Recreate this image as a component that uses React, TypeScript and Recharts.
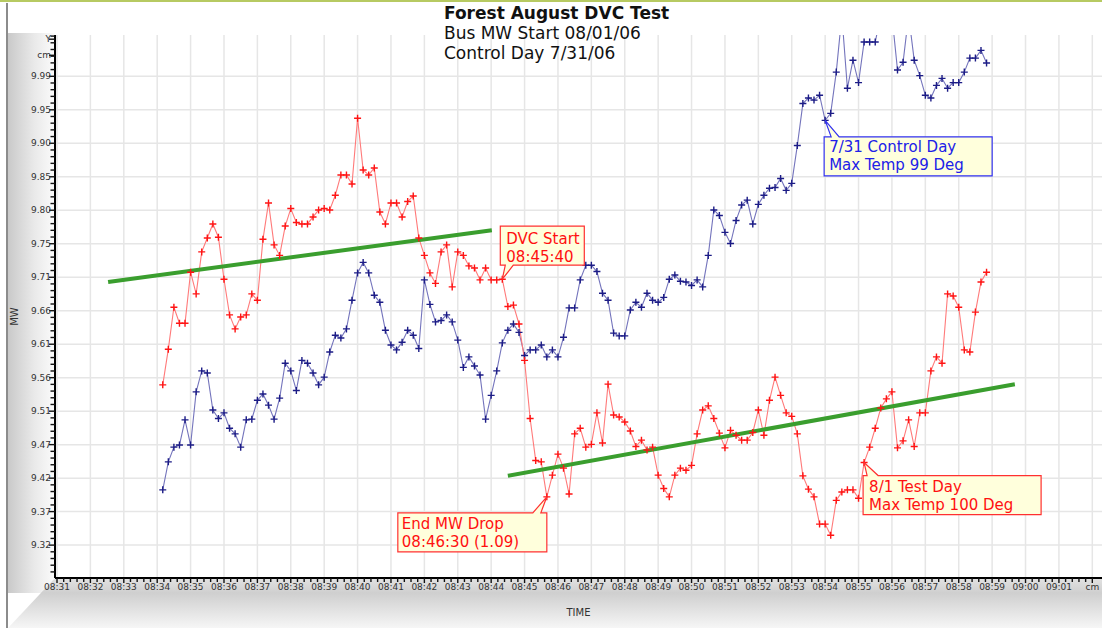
import {
  LineChart,
  Line,
  XAxis,
  YAxis,
  ReferenceLine,
  ReferenceDot,
} from 'recharts'

// Samples every 10 s, first one at 08:34:10 (x axis is minutes after 08:00)
const startMinute = 34 + 10 / 60
const stepMinute = 10 / 60

// 8/1 test day (red)
const testDayMW = [
  9.552, 9.603, 9.663, 9.640, 9.640, 9.713, 9.682, 9.742, 9.762, 9.782,
  9.763, 9.703, 9.652, 9.632, 9.649, 9.652, 9.682, 9.673, 9.760, 9.812,
  9.752, 9.737, 9.779, 9.804, 9.784, 9.782, 9.782, 9.792, 9.802, 9.804,
  9.802, 9.823, 9.852, 9.852, 9.839, 9.933, 9.859, 9.852, 9.862, 9.799,
  9.782, 9.812, 9.812, 9.792, 9.814, 9.822, 9.762, 9.737, 9.712, 9.697,
  9.742, 9.752, 9.692, 9.742, 9.737, 9.722, 9.719, 9.702, 9.719, 9.702,
  9.702, 9.703, 9.664, 9.666, 9.639, 9.587, 9.504, 9.444, 9.442, 9.392,
  9.423, 9.453, 9.433, 9.396, 9.482, 9.490, 9.463, 9.467, 9.512, 9.469,
  9.553, 9.509, 9.506, 9.499, 9.486, 9.464, 9.473, 9.459, 9.463, 9.423,
  9.404, 9.392, 9.423, 9.433, 9.430, 9.437, 9.482, 9.516, 9.522, 9.504,
  9.483, 9.462, 9.487, 9.480, 9.473, 9.473, 9.484, 9.516, 9.480, 9.530,
  9.563, 9.537, 9.512, 9.507, 9.482, 9.422, 9.403, 9.392, 9.353, 9.353,
  9.337, 9.387, 9.399, 9.402, 9.402, 9.390, 9.441, 9.463, 9.490, 9.519,
  9.532, 9.542, 9.462, 9.472, 9.502, 9.464, 9.512, 9.512, 9.572, 9.592,
  9.583, 9.682, 9.679, 9.663, 9.602, 9.599, 9.656, 9.699, 9.713,
]

// 7/31 control day (blue); values above 10.05 run off the top of the plot
const controlDayMW = [
  9.402, 9.442, 9.463, 9.466, 9.502, 9.466, 9.542, 9.572, 9.569, 9.516,
  9.504, 9.512, 9.490, 9.482, 9.463, 9.502, 9.503, 9.530, 9.539, 9.523,
  9.503, 9.533, 9.583, 9.572, 9.544, 9.587, 9.583, 9.569, 9.552, 9.563,
  9.599, 9.623, 9.619, 9.632, 9.673, 9.712, 9.727, 9.712, 9.680, 9.670,
  9.630, 9.609, 9.602, 9.613, 9.630, 9.623, 9.604, 9.702, 9.667, 9.642,
  9.644, 9.652, 9.642, 9.616, 9.577, 9.592, 9.579, 9.566, 9.503, 9.537,
  9.572, 9.612, 9.630, 9.639, 9.627, 9.594, 9.602, 9.602, 9.609, 9.592,
  9.602, 9.592, 9.620, 9.662, 9.662, 9.702, 9.723, 9.723, 9.714, 9.683,
  9.673, 9.626, 9.622, 9.622, 9.659, 9.670, 9.663, 9.683, 9.673, 9.670,
  9.677, 9.703, 9.709, 9.700, 9.699, 9.694, 9.702, 9.692, 9.737, 9.802,
  9.794, 9.770, 9.754, 9.787, 9.809, 9.816, 9.782, 9.810, 9.823, 9.833,
  9.834, 9.847, 9.830, 9.840, 9.894, 9.954, 9.962, 9.959, 9.966, 9.930,
  9.940, 9.999, 10.08, 9.976, 10.016, 9.984, 10.042, 10.042, 10.042, 10.08,
  10.08, 10.08, 10.002, 10.013, 10.08, 10.016, 9.994, 9.966, 9.962, 9.980,
  9.990, 9.976, 9.984, 9.984, 9.999, 10.019, 10.019, 10.030, 10.012,
]

const xTickMinutes = [
  31, 32, 33, 34, 35, 36, 37, 38, 39, 40, 41, 42, 43, 44, 45, 46,
  47, 48, 49, 50, 51, 52, 53, 54, 55, 56, 57, 58, 59, 60, 61, 62,
]
const xTickLabels = [
  '08:31', '08:32', '08:33', '08:34', '08:35', '08:36', '08:37', '08:38',
  '08:39', '08:40', '08:41', '08:42', '08:43', '08:44', '08:45', '08:46',
  '08:47', '08:48', '08:49', '08:50', '08:51', '08:52', '08:53', '08:54',
  '08:55', '08:56', '08:57', '08:58', '08:59', '09:00', '09:01', 'cm',
]

const yTickValues = [
  9.3230, 9.3709, 9.4187, 9.4666, 9.5144, 9.5623, 9.6101, 9.6580,
  9.7058, 9.7537, 9.8016, 9.8494, 9.8973, 9.9451, 9.9930,
]
const yTickLabels = [
  '9.32', '9.37', '9.42', '9.47', '9.51', '9.56', '9.61', '9.66',
  '9.71', '9.75', '9.80', '9.85', '9.90', '9.95', '9.99',
]
const yUnitValues = [10.023, 10.046]
const yUnitLabels = ['cm', 'Y']

// green trend lines (minute, MW)
const trendBefore = [
  { minute: 32.53, mw: 9.699 },
  { minute: 44.02, mw: 9.773 },
]
const trendAfter = [
  { minute: 44.5, mw: 9.422 },
  { minute: 59.68, mw: 9.553 },
]

const notes = [
  { id: 'dvc', series: 'test', index: 61, lines: ['DVC Start', '08:45:40'] },
  { id: 'drop', series: 'test', index: 69, lines: ['End MW Drop', '08:46:30 (1.09)'] },
  { id: 'control', series: 'control', index: 119, lines: ['7/31 Control Day', 'Max Temp 99 Deg'] },
  { id: 'testday', series: 'test', index: 126, lines: ['8/1 Test Day', 'Max Temp 100 Deg'] },
]

const W = 1102
const H = 628
const FONT = '"DejaVu Sans", Verdana, sans-serif'
const xDomain: [number, number] = [30.94, 62.29]
const yDomain: [number, number] = [9.276, 10.052]

const RED = '#ff1414'
const RED_LINE = '#ff7a7a'
const BLUE = '#1c1c86'
const BLUE_LINE = '#7474bc'
const GREEN = '#3a9e2e'
const GRID = '#e6e6e6'

const data = testDayMW.map((mw, i) => ({
  minute: startMinute + i * stepMinute,
  test: mw,
  control: controlDayMW[i],
}))

// major + minor (5 per division) tick positions
const xTicksAll: number[] = []
for (let k = 0; k <= (62 - 31) * 5; k++) xTicksAll.push(31 + k / 5)

const yStep = (yTickValues[yTickValues.length - 1] - yTickValues[0]) / (yTickValues.length - 1)
const yTicksAll: number[] = []
for (let k = -4; k <= 76; k++) {
  if (k % 5 === 0 && k >= 0 && k / 5 < yTickValues.length) yTicksAll.push(yTickValues[k / 5])
  else yTicksAll.push(yTickValues[0] + (k * yStep) / 5)
}
yUnitValues.forEach((v) => yTicksAll.push(v))
yTicksAll.sort((a, b) => a - b)

const yLabelFor = (v: number) => {
  const i = yTickValues.indexOf(v)
  if (i >= 0) return yTickLabels[i]
  const j = yUnitValues.indexOf(v)
  if (j >= 0) return yUnitLabels[j]
  return null
}

function XTick(props: any) {
  const { x, y, payload } = props
  const v = payload.value
  const major = Math.abs(v - Math.round(v)) < 1e-6
  return (
    <g>
      <line x1={x} x2={x} y1={y} y2={y + (major ? 5 : 4)} stroke="#111" strokeWidth={1.4} />
      {major && (
        <text x={x} y={y + 12} textAnchor="middle" fontSize={9} fontFamily={FONT} fill="#333">
          {xTickLabels[Math.round(v) - 31]}
        </text>
      )}
    </g>
  )
}

function YTick(props: any) {
  const { x, y, payload } = props
  const label = yLabelFor(payload.value)
  return (
    <g>
      <line x1={x - (label ? 6 : 4.5)} x2={x} y1={y} y2={y} stroke="#111" strokeWidth={1.4} />
      {label && (
        <text x={x - 4} y={y + 3} textAnchor="end" fontSize={9} fontFamily={FONT} fill="#333">
          {label}
        </text>
      )}
    </g>
  )
}

function cross(color: string) {
  return (props: any) => {
    const { cx, cy, index } = props
    if (cx == null || cy == null || isNaN(cy)) return <g key={`${color}${index}`} />
    return (
      <path
        key={`${color}${index}`}
        d={`M${cx - 3.5},${cy}h7M${cx},${cy - 3.5}v7`}
        stroke={color}
        strokeWidth={1.4}
        fill="none"
      />
    )
  }
}

// callout outline relative to the pointed data point, plus text start
const calloutLayout: Record<string, { path: string; tx: number; ty: number; color: string }> = {
  dvc: { path: 'M-2,-53H82V-14H11L0,0L3,-14H-2Z', tx: 4, ty: -35, color: 'red' },
  drop: { path: 'M-149,16H-14L0,0L-6,16H0V55H-149Z', tx: -145, ty: 32, color: 'red' },
  control: { path: 'M-1,16.5H6L0,0L14,16.5H167V55.5H-1Z', tx: 4, ty: 32, color: 'blue' },
  testday: { path: 'M-1,13H3L0,0L14,13H177V52H-1Z', tx: 5, ty: 29, color: 'red' },
}

function Callout(props: any) {
  const { cx, cy, id, lines } = props
  const l = calloutLayout[id]
  const stroke = l.color === 'red' ? '#ff3030' : '#3030f0'
  const fill = l.color === 'red' ? '#ff1010' : '#2020e8'
  return (
    <g transform={`translate(${cx},${cy})`}>
      <path d={l.path} fill="#ffffdc" stroke={stroke} strokeWidth={1.2} />
      {lines.map((t: string, i: number) => (
        <text key={i} x={l.tx} y={l.ty + i * 18} fontSize={15} fontFamily={FONT} fill={fill}>
          {t}
        </text>
      ))}
    </g>
  )
}

export default function App() {
  return (
    <div
      style={{
        position: 'absolute',
        left: 0,
        top: 0,
        width: W,
        height: H,
        background: '#fff',
        overflow: 'hidden',
      }}
    >
      {/* panel frame and shading */}
      <div style={{ position: 'absolute', left: 0, top: 0, width: W, height: 2, background: '#b7ca62' }} />
      <div
        style={{
          position: 'absolute',
          left: 8,
          top: 33,
          width: 47,
          height: 560,
          background: 'linear-gradient(to right, #c9c9c9, #e9e9e9 55%, #fbfbfb)',
        }}
      />
      <div
        style={{
          position: 'absolute',
          left: 8,
          top: 578,
          width: W - 8,
          height: 50,
          background: 'linear-gradient(to bottom, #e2e2e2, #cfcfcf 30%, #f6f6f6)',
          clipPath: 'polygon(0 100%, 47px 0, 100% 0, 100% 100%)',
        }}
      />
      <div style={{ position: 'absolute', left: 6, top: 3, width: 1.5, height: H, background: '#8c8c8c' }} />

      <div style={{ position: 'absolute', left: 0, top: 0 }}>
        <LineChart width={W} height={H} data={data} margin={{ top: 35, right: 0, bottom: 0, left: 0 }}>
          <XAxis
            dataKey="minute"
            type="number"
            domain={xDomain}
            allowDataOverflow
            ticks={xTicksAll}
            interval={0}
            tickSize={0}
            tickMargin={0}
            tickLine={false}
            tick={<XTick />}
            height={50}
            axisLine={{ stroke: '#000', strokeWidth: 2 }}
            label={{
              value: 'TIME',
              position: 'insideBottom',
              offset: 12,
              fontSize: 10,
              fontFamily: FONT,
              fill: '#333',
            }}
          />
          <YAxis
            type="number"
            domain={yDomain}
            allowDataOverflow
            ticks={yTicksAll}
            interval={0}
            tickSize={0}
            tickMargin={0}
            tickLine={false}
            tick={<YTick />}
            width={55}
            axisLine={{ stroke: '#000', strokeWidth: 2 }}
            label={{
              content: (p: any) => {
                const vb = p.viewBox || {}
                const cx = (vb.x || 0) + 14
                const cy = (vb.y || 0) + (vb.height || 0) / 2 + 10
                return (
                  <text
                    x={cx}
                    y={cy}
                    transform={`rotate(-90 ${cx} ${cy})`}
                    textAnchor="middle"
                    dominantBaseline="central"
                    fontSize={10}
                    fontFamily={FONT}
                    fill="#333"
                  >
                    MW
                  </text>
                )
              },
            }}
          />

          {xTickMinutes.map((m) => (
            <ReferenceLine key={`gx${m}`} x={m} stroke={GRID} strokeWidth={1.5} />
          ))}
          {yTickValues.map((v) => (
            <ReferenceLine key={`gy${v}`} y={v} stroke={GRID} strokeWidth={1.5} />
          ))}

          <Line
            dataKey="control"
            type="linear"
            stroke={BLUE_LINE}
            strokeWidth={1.1}
            dot={cross(BLUE)}
            activeDot={false}
            isAnimationActive={false}
          />
          <Line
            dataKey="test"
            type="linear"
            stroke={RED_LINE}
            strokeWidth={1.1}
            dot={cross(RED)}
            activeDot={false}
            isAnimationActive={false}
          />

          <ReferenceLine
            segment={trendBefore.map((p) => ({ x: p.minute, y: p.mw }))}
            stroke={GREEN}
            strokeWidth={4}
          />
          <ReferenceLine
            segment={trendAfter.map((p) => ({ x: p.minute, y: p.mw }))}
            stroke={GREEN}
            strokeWidth={4}
          />

          {notes.map((n) => {
            const src = n.series === 'test' ? testDayMW : controlDayMW
            return (
              <ReferenceDot
                key={n.id}
                x={startMinute + n.index * stepMinute}
                y={src[n.index]}
                r={0}
                shape={(p: any) => <Callout {...p} id={n.id} lines={n.lines} />}
              />
            )
          })}
        </LineChart>
      </div>

      <div
        style={{
          position: 'absolute',
          left: 444,
          top: 3,
          fontFamily: FONT,
          fontSize: 17,
          lineHeight: '20px',
          color: '#111',
          whiteSpace: 'nowrap',
        }}
      >
        <div style={{ fontWeight: 'bold' }}>Forest August DVC Test</div>
        <div>Bus MW Start 08/01/06</div>
        <div>Control Day 7/31/06</div>
      </div>
    </div>
  )
}
